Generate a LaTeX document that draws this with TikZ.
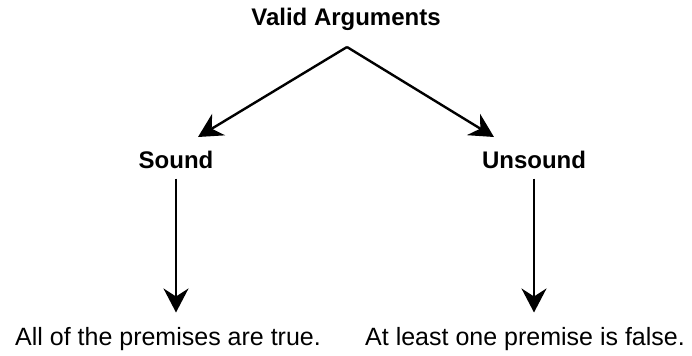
\documentclass[tikz,border=0pt]{standalone}
\usepackage{fontspec}
\setmainfont{Liberation Sans}
\usetikzlibrary{arrows.meta,positioning}
\tikzset{
  heading/.style={font=\bfseries\fontsize{12}{14}\selectfont, anchor=base, inner sep=5pt},
  premise/.style={font=\fontsize{12.5}{15}\selectfont, anchor=base, inner sep=7pt},
  arr/.style={line width=1.2pt, -{Stealth[length=12pt,width=12.5pt,inset=4pt]}}
}
\begin{document}
\begin{tikzpicture}[x=0.5pt,y=-0.5pt]
\useasboundingbox (0,0) rectangle (692,355);
% headings: top, then the two kinds
\node[heading] (valid) at (346,25) {Valid Arguments};
\node[heading] (sound) at (176,168) {Sound};
\node[heading] (unsound) at (534,168) {Unsound};
% what each kind means
\node[premise] (alltrue) at (168,345) {All of the premises are true.};
\node[premise] (onefalse) at (525,345) {At least one premise is false.};
% branch point under the title, and where the two branches stop
\coordinate (apex) at (347,47);
\coordinate (soundtip) at (198,137);
\coordinate (unsoundtip) at (494,137);
\draw[arr] (apex) -- (soundtip);
\draw[arr] (apex) -- (unsoundtip);
% down to the meanings
\draw[arr] (sound.south) -- (sound.south |- alltrue.north);
\draw[arr] (unsound.south) -- (unsound.south |- onefalse.north);
\end{tikzpicture}
\end{document}
